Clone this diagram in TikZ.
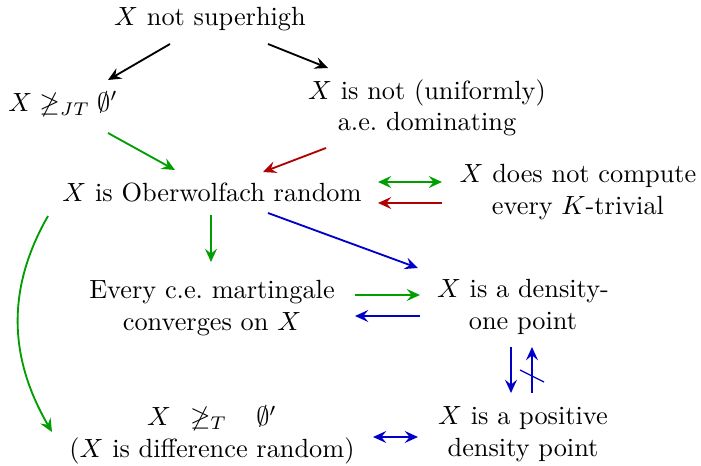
\documentclass[tikz,border=0pt]{standalone}
\usepackage{amsmath,amssymb}
\usepackage{tikz}
\usetikzlibrary{arrows.meta,calc}
\definecolor{impgreen}{HTML}{009E00}
\definecolor{impred}{HTML}{B00000}
\definecolor{impblue}{HTML}{0000C8}

\begin{document}
\begin{tikzpicture}[
    x=0.38pt,
    y=-0.38pt,
    stmt/.style={align=center, inner sep=0pt},
    link/.style={-{Stealth[length=5pt,width=4.5pt,inset=1.8pt]}, line width=0.7pt},
    twoway/.style={{Stealth[length=5pt,width=4.5pt,inset=1.8pt]}-{Stealth[length=5pt,width=4.5pt,inset=1.8pt]}, line width=0.7pt}
  ]
    \useasboundingbox (0,0) rectangle (701,466);

    \node[stmt] (top) at (210,19) {$X$ not superhigh};
    \node[stmt] (jt) at (63,104) {$X \not\geq_{JT} \emptyset'$};
    \node[stmt] (dom) at (427,108) {$X$ is not (uniformly)\\a.e.\ dominating};
    \node[stmt] (ober) at (212,193) {$X$ is Oberwolfach random};
    \node[stmt] (ktriv) at (578,192) {$X$ does not compute\\every $K$-trivial};
    \node[stmt] (mart) at (212,308) {Every c.e.\ martingale\\converges on $X$};
    \node[stmt] (dens) at (523,307) {$X$ is a density-\\one point};
    \node[stmt] (pos) at (523,434) {$X$ is a positive\\density point};
    \node[stmt] (diff) at (212,435) {$X\;\,\not\geq_T\;\;\;\emptyset'$\\($X$ is difference random)};

    % black: top level
    \draw[link] ($(top)+(-40,25)$) -- ($(jt)+(45,-24)$);
    \draw[link] ($(top)+(58,25)$) -- ($(dom)+(-99,-40)$);

    % green
    \draw[link, impgreen] ($(jt)+(45,29)$) -- ($(ober)+(-37,-23)$);
    \draw[twoway, impgreen] ($(ober)+(166,-11)$) -- ($(ktriv)+(-136,-10)$);
    \draw[link, impgreen] ($(ober)+(-1,22)$) -- ($(mart)+(-1,-46)$);
    \draw[link, impgreen] ($(mart)+(143,-13)$) -- ($(dens)+(-103,-12)$);
    \draw[link, impgreen] ($(ober)+(-164,23)$) .. controls ($(ober)+(-203,91)$) and ($(diff)+(-206,-82)$) .. ($(diff)+(-160,-3)$);

    % red
    \draw[link, impred] ($(dom)+(-101,40)$) -- ($(ober)+(51,-21)$);
    \draw[link, impred] ($(ktriv)+(-136,11)$) -- ($(ober)+(166,10)$);

    % blue
    \draw[link, impblue] ($(ober)+(56,20)$) -- ($(dens)+(-105,-39)$);
    \draw[link, impblue] ($(dens)+(-103,9)$) -- ($(mart)+(143,8)$);
    \draw[link, impblue] ($(dens)+(-12,40)$) -- ($(pos)+(-12,-41)$);
    \draw[link, impblue] ($(pos)+(9,-41)$) -- coordinate (cut) ($(dens)+(9,40)$);
    \draw[impblue, line width=0.5pt] ($(cut)+(-12,0)$) -- ($(cut)+(12,12)$);
    \draw[twoway, impblue] ($(diff)+(161,2)$) -- ($(pos)+(-105,3)$);
\end{tikzpicture}
\end{document}
